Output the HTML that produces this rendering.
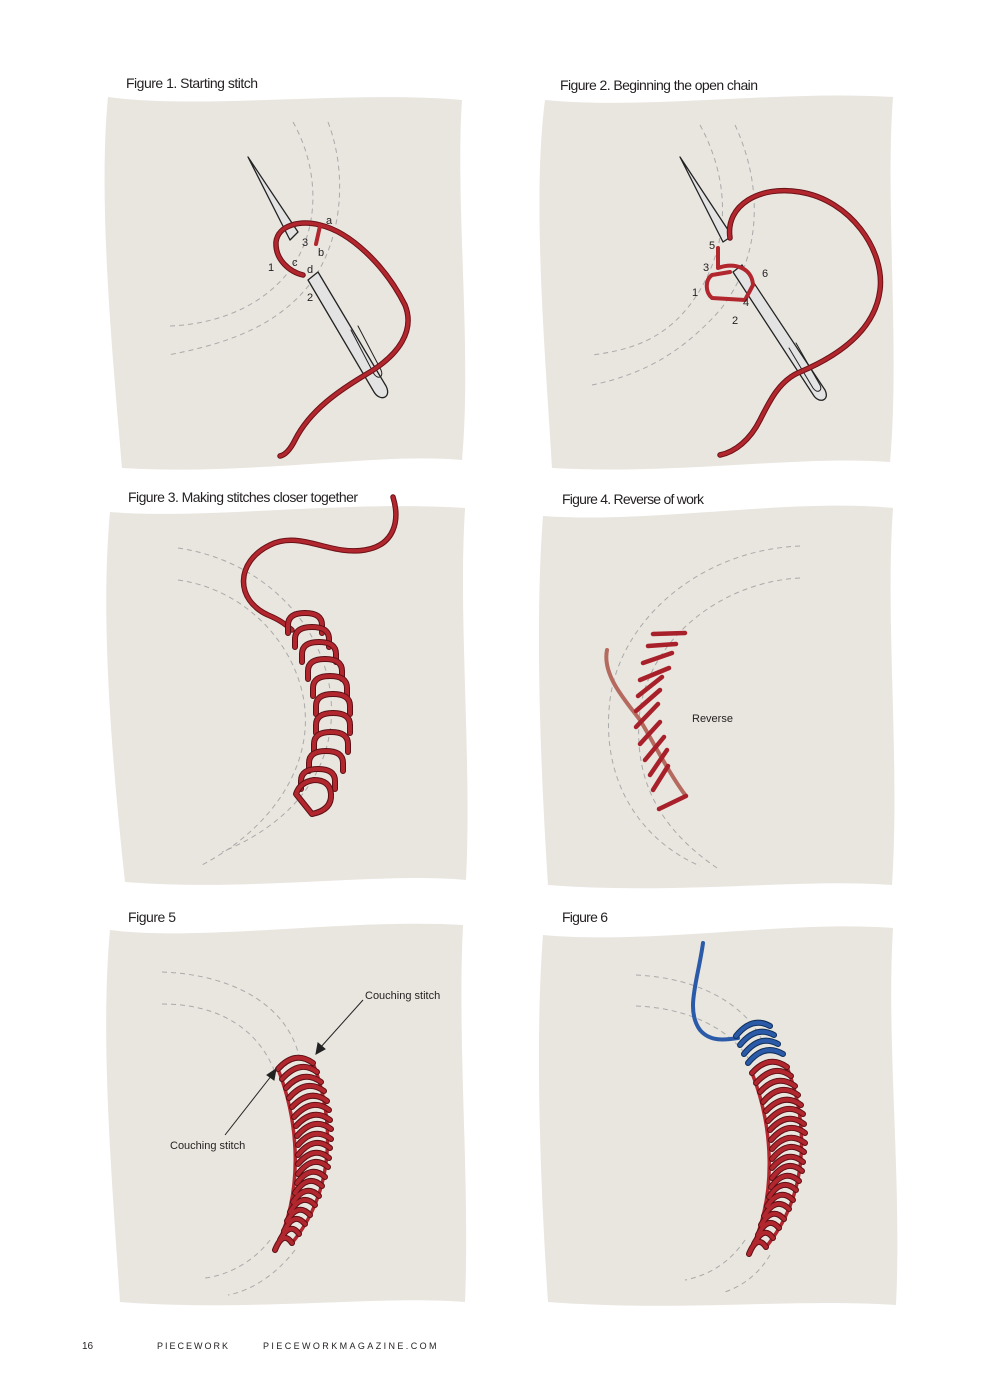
<!DOCTYPE html>
<html><head><meta charset="utf-8"><style>
html,body{margin:0;padding:0;background:#fff}
svg{display:block}
text{font-family:"Liberation Sans",sans-serif;fill:#231f20}
</style></head><body>
<svg width="1000" height="1386" viewBox="0 0 1000 1386" xmlns="http://www.w3.org/2000/svg">
<defs>
<g id="loop"><path d="M-17,7 L-17,-1 Q-17,-13 0,-13 Q17,-13 17,-1 L17,7" fill="none" stroke="#5a1015" stroke-width="6" stroke-linecap="round"/><path d="M-17,7 L-17,-1 Q-17,-13 0,-13 Q17,-13 17,-1 L17,7" fill="none" stroke="#b2262e" stroke-width="4" stroke-linecap="round"/></g>
<path id="bars5" d="M278,1069 Q295,1050 313,1063 M282,1079 Q300,1059 317,1072 M286,1088 Q303,1069 321,1082 M289,1098 Q306,1078 324,1091 M292,1107 Q310,1088 327,1101 M294,1117 Q312,1097 329,1110 M296,1126 Q313,1107 330,1120 M297,1136 Q314,1116 331,1129 M298,1145 Q314,1126 331,1139 M298,1155 Q314,1135 330,1148 M298,1164 Q314,1145 329,1158 M298,1174 Q313,1154 328,1167 M297,1183 Q311,1164 325,1177 M295,1193 Q308,1173 322,1186 M293,1202 Q306,1183 319,1196 M290,1212 Q302,1192 315,1205 M287,1221 Q298,1202 310,1215 M284,1231 Q294,1211 305,1224 M280,1240 Q290,1221 299,1234 M275,1250 Q283,1230 292,1243"/>
</defs>
<g fill="#e9e5df">
<path d="M108,97 C200,110 350,90 462,100 C455,200 472,350 462,460 C380,452 250,476 122,468 C112,350 98,200 108,97Z"/>
<path d="M545,100 C650,110 780,90 893,97 C885,200 900,350 890,462 C800,455 680,475 552,468 C545,350 532,200 545,100Z"/>
<path d="M110,512 C200,520 350,500 465,508 C458,620 472,760 466,880 C380,872 250,892 125,882 C112,760 100,620 110,512Z"/>
<path d="M543,516 C650,524 790,498 893,508 C885,620 900,760 892,885 C800,878 680,895 548,885 C540,760 535,620 543,516Z"/>
<path d="M110,930 C200,942 350,918 463,925 C457,1040 470,1180 465,1302 C380,1295 250,1312 120,1302 C112,1180 100,1040 110,930Z"/>
<path d="M543,935 C650,945 790,920 893,928 C886,1040 902,1180 896,1305 C800,1298 680,1312 548,1302 C540,1180 535,1040 543,935Z"/>
</g>
<g font-size="14">
<text x="126" y="88" textLength="132">Figure 1. Starting stitch</text>
<text x="560" y="90" textLength="198">Figure 2. Beginning the open chain</text>
<text x="128" y="502" textLength="230">Figure 3. Making stitches closer together</text>
<text x="562" y="504" textLength="142">Figure 4. Reverse of work</text>
<text x="128" y="922" textLength="48">Figure 5</text>
<text x="562" y="922" textLength="46">Figure 6</text>
</g>
<g fill="none" stroke="#aaa" stroke-width="1" stroke-dasharray="5,4">
<path d="M293,122 C320,170 320,230 290,270 C260,310 210,325 168,326"/>
<path d="M328,122 C350,180 340,250 305,290 C270,330 220,345 168,355"/>
<path d="M700,125 C730,180 730,240 700,290 C670,340 630,350 592,355"/>
<path d="M735,125 C765,190 760,260 720,310 C680,355 640,375 592,385"/>
<path d="M178,548 C260,560 320,620 330,690 C340,760 300,820 222,852"/>
<path d="M178,580 C250,590 300,650 305,710 C310,770 270,830 200,866"/>
<path d="M800,546 C700,550 620,620 610,700 C600,780 640,840 700,866"/>
<path d="M800,578 C720,582 650,640 640,710 C632,780 660,830 720,870"/>
<path d="M162,972 C240,975 290,1010 300,1060"/>
<path d="M162,1004 C220,1004 260,1030 276,1075"/>
<path d="M270,1240 C255,1260 230,1275 205,1278"/>
<path d="M295,1250 C280,1270 255,1290 228,1295"/>
<path d="M636,975 C700,978 745,1005 762,1040"/>
<path d="M636,1006 C690,1008 730,1030 748,1058"/>
<path d="M745,1240 C730,1262 710,1275 685,1280"/>
<path d="M770,1255 C760,1272 745,1285 725,1292"/>
</g>
<!-- Figure 1 -->
<g stroke-linecap="round" stroke-linejoin="round">
<path d="M248,157 L298,232 L290,240 Z" fill="#e3e3e3" stroke="#222" stroke-width="1.3"/>
<path d="M318,272 L386,386 C392,398 380,402 374,392 L308,280 Z" fill="#e3e3e3" stroke="#222" stroke-width="1.3"/>
<path d="M358,326 L381,370 C384,377 378,380 374,374 L351,330" fill="none" stroke="#222" stroke-width="1"/>
<path d="M303,275 C290,272 275,260 276,242 C278,225 300,220 320,225 C350,232 385,265 405,305 C415,330 400,355 365,375 C340,390 310,410 295,440 C290,450 285,455 280,456" fill="none" stroke="#6a1116" stroke-width="5.5"/>
<path d="M303,275 C290,272 275,260 276,242 C278,225 300,220 320,225 C350,232 385,265 405,305 C415,330 400,355 365,375 C340,390 310,410 295,440 C290,450 285,455 280,456" fill="none" stroke="#b2262e" stroke-width="3.5"/>
<path d="M320,226 L316,244" stroke="#b2262e" stroke-width="4"/>
</g>
<g font-size="11"><text x="326" y="224">a</text><text x="318" y="256">b</text><text x="302" y="246">3</text><text x="292" y="266">c</text><text x="268" y="271">1</text><text x="307" y="273">d</text><text x="307" y="301">2</text></g>
<!-- Figure 2 -->
<g stroke-linecap="round" stroke-linejoin="round">
<path d="M680,157 L732,236 L723,242 Z" fill="#e3e3e3" stroke="#222" stroke-width="1.3"/>
<path d="M742,265 L825,390 C830,400 820,404 814,396 L733,272 Z" fill="#e3e3e3" stroke="#222" stroke-width="1.3"/>
<path d="M796,343 L820,385 C823,391 817,394 813,388 L789,348" fill="none" stroke="#222" stroke-width="1"/>
<path d="M730,238 C725,205 760,185 800,192 C850,200 885,250 880,290 C875,330 840,355 800,372 C780,380 770,400 760,420 C750,440 735,452 720,455" fill="none" stroke="#6a1116" stroke-width="5.5"/>
<path d="M730,238 C725,205 760,185 800,192 C850,200 885,250 880,290 C875,330 840,355 800,372 C780,380 770,400 760,420 C750,440 735,452 720,455" fill="none" stroke="#b2262e" stroke-width="3.5"/>
<path d="M718,248 L718,268 M718,268 C735,262 752,268 753,285 L745,300 L712,298 C705,292 705,280 712,275 L730,272" fill="none" stroke="#b2262e" stroke-width="4"/>
</g>
<g font-size="11"><text x="709" y="249">5</text><text x="703" y="271">3</text><text x="762" y="277">6</text><text x="692" y="296">1</text><text x="743" y="306">4</text><text x="732" y="324">2</text></g>
<!-- Figure 3 -->
<g stroke-linecap="round">
<path d="M393,497 C400,520 395,545 365,550 C330,556 300,530 270,545 C235,562 235,600 268,615 C280,620 285,624 292,630" fill="none" stroke="#6a1116" stroke-width="5.5"/>
<path d="M393,497 C400,520 395,545 365,550 C330,556 300,530 270,545 C235,562 235,600 268,615 C280,620 285,624 292,630" fill="none" stroke="#b2262e" stroke-width="3.5"/>
</g>
<use href="#loop" x="305" y="626"/><use href="#loop" x="312" y="640"/><use href="#loop" x="319" y="655"/><use href="#loop" x="325" y="672"/><use href="#loop" x="330" y="689"/><use href="#loop" x="333" y="707"/><use href="#loop" x="333" y="726"/><use href="#loop" x="331" y="745"/><use href="#loop" x="326" y="764"/><use href="#loop" x="318" y="782"/>
<path d="M296,794 L312,814 Q332,810 331,794 Q330,780 314,780 Q300,782 296,794 Z" fill="none" stroke="#5a1015" stroke-width="6" stroke-linejoin="round"/>
<path d="M296,794 L312,814 Q332,810 331,794 Q330,780 314,780 Q300,782 296,794 Z" fill="none" stroke="#b2262e" stroke-width="4" stroke-linejoin="round"/>
<!-- Figure 4 -->
<path d="M607,650 C602,675 625,700 640,720 C655,745 670,775 686,796" fill="none" stroke="#b46a5e" stroke-width="4" stroke-linecap="round"/>
<g stroke="#a8202a" stroke-width="4.5" stroke-linecap="round">
<line x1="653" y1="634" x2="685" y2="633"/><line x1="648" y1="646" x2="676" y2="644"/><line x1="643" y1="663" x2="672" y2="653"/><line x1="640" y1="680" x2="669" y2="668"/><line x1="638" y1="696" x2="662" y2="677"/><line x1="636" y1="711" x2="660" y2="690"/><line x1="636" y1="727" x2="658" y2="704"/><line x1="640" y1="744" x2="660" y2="722"/><line x1="645" y1="760" x2="664" y2="737"/><line x1="650" y1="775" x2="667" y2="750"/><line x1="653" y1="790" x2="668" y2="766"/><line x1="659" y1="809" x2="686" y2="796"/>
</g>
<text x="692" y="722" font-size="11">Reverse</text>
<!-- Figure 5 -->
<g fill="none" stroke-linecap="round">
<path d="M278,1069 C298,1120 305,1190 275,1250" stroke="#b2262e" stroke-width="3.5"/>
<path d="M313,1063 C335,1120 335,1190 292,1243" stroke="#b2262e" stroke-width="3.5"/>
<use href="#bars5" stroke="#5a1015" stroke-width="6"/>
<use href="#bars5" stroke="#b2262e" stroke-width="4"/>
</g>
<g stroke="#222" stroke-width="1" fill="#222">
<line x1="363" y1="1000" x2="320" y2="1048"/><path d="M316,1054 L318,1043 L325,1049 Z"/>
<line x1="225" y1="1135" x2="272" y2="1075"/><path d="M276,1069 L274,1080 L267,1075 Z"/>
</g>
<text x="365" y="999" font-size="11">Couching stitch</text>
<text x="170" y="1149" font-size="11">Couching stitch</text>
<!-- Figure 6 -->
<g transform="translate(474,4)" fill="none" stroke-linecap="round">
<path d="M278,1069 C298,1120 305,1190 275,1250" stroke="#b2262e" stroke-width="3.5"/>
<path d="M313,1063 C335,1120 335,1190 292,1243" stroke="#b2262e" stroke-width="3.5"/>
<use href="#bars5" stroke="#5a1015" stroke-width="6"/>
<use href="#bars5" stroke="#b2262e" stroke-width="4"/>
</g>
<g fill="none" stroke-linecap="round">
<path d="M703,943 C698,980 685,1010 700,1030 C710,1042 725,1040 738,1038" stroke="#2a5aa8" stroke-width="4"/>
<path d="M736,1036 Q752,1016 770,1026 M740,1045 Q756,1025 774,1035 M744,1054 Q760,1034 778,1044 M748,1063 Q764,1043 783,1054" stroke="#10305a" stroke-width="6"/>
<path d="M736,1036 Q752,1016 770,1026 M740,1045 Q756,1025 774,1035 M744,1054 Q760,1034 778,1044 M748,1063 Q764,1043 783,1054" stroke="#2a5aa8" stroke-width="4"/>
</g>
<!-- footer -->
<text x="82" y="1349" font-size="10">16</text>
<text x="157" y="1349" font-size="9" letter-spacing="2">PIECEWORK</text>
<text x="263" y="1349" font-size="9" letter-spacing="2.4">PIECEWORKMAGAZINE.COM</text>
</svg>
</body></html>
